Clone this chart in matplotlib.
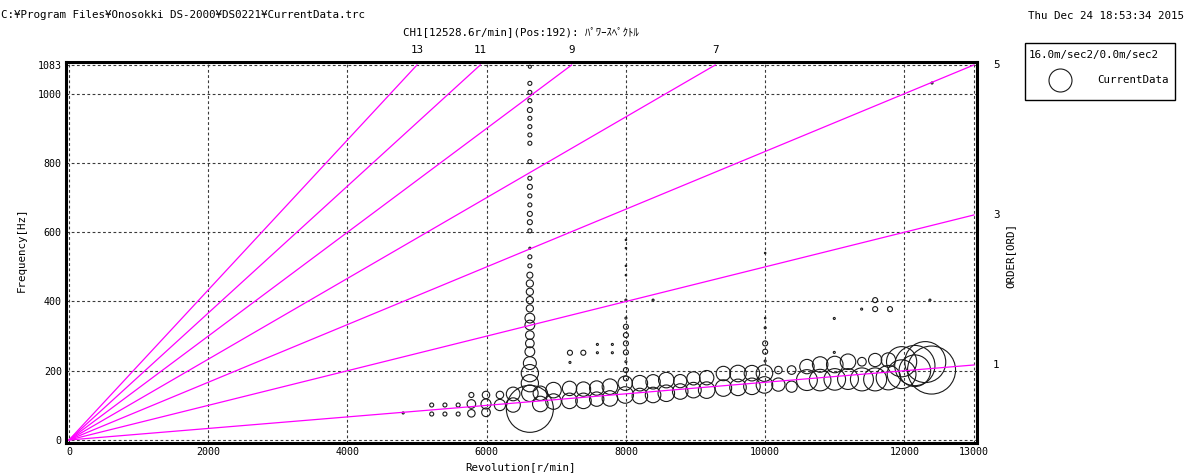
import matplotlib
matplotlib.use('Agg')
import matplotlib.pyplot as plt
from matplotlib.patches import Rectangle
from matplotlib.lines import Line2D

plt.rcParams['font.family'] = ['DejaVu Sans Mono', 'Noto Sans CJK JP']
plt.rcParams['font.size'] = 7.8

# order lines of the tracking map
orders = [1, 3, 5, 7, 9, 11, 13]

# rotation-synchronous band, upper row (rpm, Hz, m/sec2)
upper_rpm = [5210, 5400, 5590, 5780, 5990, 6190, 6380, 6770, 6960, 7190, 7390, 7580,
             7770, 7990, 8200, 8390, 8580, 8780, 8970, 9160, 9400, 9610, 9810, 9990,
             10190, 10380, 10600, 10790, 11000, 11190, 11390, 11580, 11770, 11960, 12150, 12300]
upper_freq = [101, 101, 101, 130, 130, 130, 133, 135, 144, 149, 147, 150,
              154, 164, 164, 168, 173, 170, 178, 180, 192, 192, 193, 193,
              202, 202, 212, 218, 218, 226, 226, 231, 231, 226, 215, 225]
upper_amp = [2.8, 2.8, 2.8, 3.5, 5.2, 5.2, 9.5, 10.0, 10.8, 10.0, 10.0, 10.0,
             10.8, 10.0, 10.8, 10.0, 10.8, 9.2, 9.2, 10.0, 10.0, 11.5, 10.8, 11.5,
             5.2, 6.0, 10.0, 10.8, 11.5, 10.8, 6.0, 9.2, 10.0, 21.0, 28.0, 28.5]

# band, lower row
lower_rpm = [5210, 5400, 5590, 5780, 5990, 6190, 6380, 6770, 6960, 7190, 7390, 7580,
             7770, 7990, 8200, 8390, 8580, 8780, 8970, 9160, 9400, 9610, 9810, 9990,
             10190, 10380, 10600, 10790, 11000, 11190, 11390, 11580, 11770, 11960, 12150, 12390]
lower_freq = [75, 75, 75, 104, 104, 101, 101, 104, 111, 113, 113, 118,
              120, 130, 127, 130, 135, 140, 144, 144, 150, 152, 155, 159,
              160, 154, 173, 173, 175, 176, 175, 175, 180, 190, 200, 202]
lower_amp = [2.8, 2.8, 2.8, 6.0, 7.0, 7.8, 10.0, 10.8, 10.8, 10.8, 10.8, 10.0,
             10.8, 11.5, 10.8, 10.8, 11.5, 10.8, 10.8, 11.5, 11.5, 11.5, 11.5, 11.5,
             9.2, 7.8, 14.5, 15.0, 15.0, 14.5, 16.0, 16.0, 17.0, 20.0, 22.0, 33.4]

# band, lowest row (only at low speed)
lowest_rpm = [4800, 5780, 5990]
lowest_freq = [78, 77, 80]
lowest_amp = [1.4, 5.2, 6.0]

# resonance column at ~6620 r/min
col1_rpm = 6620
col1_freq = [1078, 1030, 1004, 980, 953, 929, 905, 881, 857, 804, 756, 731, 705, 679,
             653, 629, 604, 554, 529, 503, 476, 452, 428, 404, 380, 352, 332, 303,
             279, 255, 222, 193, 164, 135, 90]
col1_amp = [2.1, 2.8, 2.8, 2.8, 3.5, 2.8, 2.8, 2.8, 2.8, 2.8, 2.8, 3.5, 2.8, 2.8,
            3.5, 3.5, 2.8, 1.4, 2.8, 2.8, 4.2, 5.0, 5.0, 5.0, 5.0, 6.8, 6.8, 6.0,
            6.0, 6.8, 9.0, 12.0, 12.0, 11.5, 32.7]

# column at 8000 r/min
col2_rpm = 8000
col2_freq = [578, 554, 503, 476, 404, 352, 327, 303, 279, 253, 226, 202, 178]
col2_amp = [1.0, 1.0, 1.0, 1.0, 1.4, 1.4, 3.5, 3.5, 3.5, 3.5, 1.4, 3.5, 3.5]

# column at 10000 r/min
col3_rpm = 10000
col3_freq = [540, 352, 324, 279, 255, 228]
col3_amp = [1.0, 1.0, 1.4, 3.5, 3.5, 1.4]

# isolated small peaks
iso_rpm = [7196, 7388, 7196, 7590, 7590, 7805, 7805, 8390, 10993, 10993, 11386,
           11580, 11580, 11793, 12367, 12397]
iso_freq = [252, 252, 224, 276, 252, 276, 252, 404, 351, 253, 378,
            404, 378, 378, 404, 1031]
iso_amp = [3.5, 3.5, 1.4, 1.4, 1.4, 1.4, 1.4, 1.4, 1.4, 1.4, 1.4,
           3.5, 3.5, 3.5, 1.4, 1.4]

legend_amp = 16.0
x_ticks = [0, 2000, 4000, 6000, 8000, 10000, 12000, 13000]
y_ticks = [0, 200, 400, 600, 800, 1000, 1083]
rpm_max = 13000
freq_max = 1083

W, H = 1190, 475
PX_PER_UNIT = 23 / 16.0  # legend circle of 16 m/sec2 is ~23 px wide


def bubble_size(amps):
    return [(a * PX_PER_UNIT * 72 / 100.0) ** 2 for a in amps]


fig = plt.figure(figsize=(W / 100, H / 100), dpi=100)
ax = fig.add_axes([66 / W, 1 - 443 / H, 911 / W, 381 / H])

ax.set_xlim(-43, 13043)
ax.set_ylim(-8.7, 1091.7)

ring = dict(facecolors='none', edgecolors='#1a1a1a', linewidths=0.8, zorder=3)
ax.scatter(upper_rpm, upper_freq, s=bubble_size(upper_amp), **ring)
ax.scatter(lower_rpm, lower_freq, s=bubble_size(lower_amp), **ring)
ax.scatter(lowest_rpm, lowest_freq, s=bubble_size(lowest_amp), **ring)
ax.scatter([col1_rpm] * len(col1_freq), col1_freq, s=bubble_size(col1_amp), **ring)
ax.scatter([col2_rpm] * len(col2_freq), col2_freq, s=bubble_size(col2_amp), **ring)
ax.scatter([col3_rpm] * len(col3_freq), col3_freq, s=bubble_size(col3_amp), **ring)
ax.scatter(iso_rpm, iso_freq, s=bubble_size(iso_amp), **ring)

# order lines + their labels
for n in orders:
    r_end = min(rpm_max, freq_max * 60.0 / n)
    f_end = r_end * n / 60.0
    ax.plot([0, r_end], [0, f_end], color='#ff00ff', lw=0.9, zorder=4)
    if r_end < rpm_max - 100:
        ax.annotate(str(n), (r_end, freq_max), xytext=(0, 7), textcoords='offset points',
                    ha='center', va='bottom', annotation_clip=False)
    else:
        ax.annotate(str(n), (rpm_max, f_end), xytext=(16, 0), textcoords='offset points',
                    ha='center', va='center', annotation_clip=False)

# grid
for x in x_ticks:
    ax.axvline(x, color='#3a3a3a', lw=0.8, ls=(0, (2.5, 2.2)), zorder=1)
for y in y_ticks:
    ax.axhline(y, color='#3a3a3a', lw=0.8, ls=(0, (2.5, 2.2)), zorder=1)

ax.set_xticks(x_ticks)
ax.set_xticklabels([str(v) for v in x_ticks], fontsize=7.2)
ax.set_yticks(y_ticks)
ax.set_yticklabels([str(v) for v in y_ticks], fontsize=7.2)
ax.tick_params(length=0, pad=3)
for sp in ax.spines.values():
    sp.set_linewidth(2.2)
    sp.set_color('black')

# header / labels
fig.text(1 / W, 1 - 15 / H, 'C:¥Program Files¥Onosokki DS-2000¥DS0221¥CurrentData.trc',
         ha='left', va='center')
fig.text(521 / W, 1 - 32 / H, 'CH1[12528.6r/min](Pos:192): ﾊﾟﾜｰｽﾍﾟｸﾄﾙ', ha='center', va='center')
fig.text(1184 / W, 1 - 16 / H, 'Thu Dec 24 18:53:34 2015', ha='right', va='center')
fig.text(22 / W, 1 - 250 / H, 'Frequency[Hz]', rotation=90, ha='center', va='center')
fig.text(521 / W, 1 - 467 / H, 'Revolution[r/min]', ha='center', va='center')
fig.text(1010 / W, 1 - 255 / H, 'ORDER[ORD]', rotation=90, ha='center', va='center')

# legend box
fig.patches.append(Rectangle((1025 / W, 1 - 100 / H), 150 / W, 57 / H, fill=False,
                             edgecolor='black', lw=1.0, transform=fig.transFigure))
fig.text(1029 / W, 1 - 55 / H, '16.0m/sec2/0.0m/sec2', ha='left', va='center')
fig.add_artist(Line2D([1060 / W], [1 - 80 / H], marker='o', ls='none',
                      markersize=legend_amp * PX_PER_UNIT * 0.72, markerfacecolor='none',
                      markeredgecolor='#1a1a1a', markeredgewidth=0.8, transform=fig.transFigure))
fig.text(1097 / W, 1 - 80 / H, 'CurrentData', ha='left', va='center')

fig.savefig('out.png', dpi=100)
